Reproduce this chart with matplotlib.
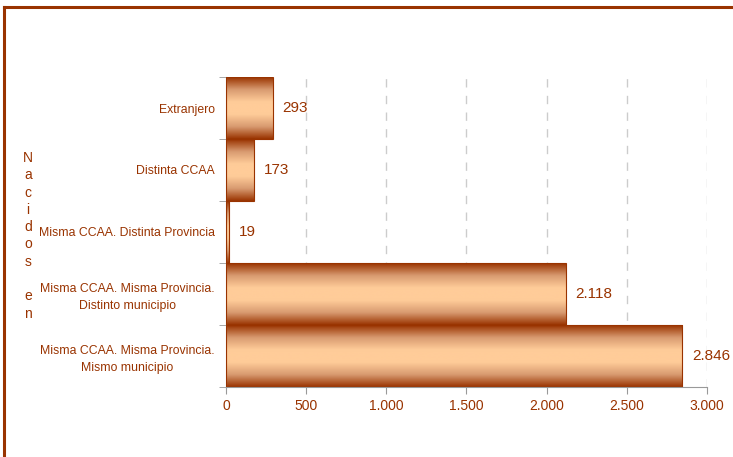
import matplotlib.pyplot as plt
import numpy as np
from matplotlib.colors import LinearSegmentedColormap
from matplotlib.lines import Line2D
from matplotlib.ticker import FuncFormatter

plt.rcParams['font.family'] = ['Liberation Sans', 'DejaVu Sans']

categories = ['Extranjero',
              'Distinta CCAA',
              'Misma CCAA. Distinta Provincia',
              'Misma CCAA. Misma Provincia.\nDistinto municipio',
              'Misma CCAA. Misma Provincia.\nMismo municipio']
values = [293, 173, 19, 2118, 2846]
ticks = [0, 500, 1000, 1500, 2000, 2500, 3000]

brown = '#993300'
peach = '#FFCC99'


def es_num(v, pos=None):
    return '{:,.0f}'.format(v).replace(',', '.')


fig = plt.figure(figsize=(7.33, 4.57), dpi=100)
ax = fig.add_axes([0.3083, 0.1532, 0.6562, 0.6783])

# frame around the chart
fig.add_artist(Line2D([0.0048, 0.0048], [0, 0.984], color=brown, lw=2.2, transform=fig.transFigure))
fig.add_artist(Line2D([0.0048, 1], [0.984, 0.984], color=brown, lw=2.2, transform=fig.transFigure))

cmap = LinearSegmentedColormap.from_list('bar', [brown, '#d89a70', peach, peach, '#d89a70', brown])
grad = np.linspace(0, 1, 256).reshape(-1, 1)

y = np.arange(len(categories))
for yi, v in zip(y, values):
    ax.imshow(grad, cmap=cmap, aspect='auto', extent=(0, v, yi - 0.5, yi + 0.5),
              interpolation='bicubic', zorder=2)
    ax.add_patch(plt.Rectangle((0, yi - 0.5), v, 1, fill=False, edgecolor=brown, lw=0.8, zorder=3))
    ax.annotate(es_num(v), (v, yi), xytext=(7, 0), textcoords='offset points',
                ha='left', va='center', fontsize=11, color=brown)

ax.set_xlim(0, 3000)
ax.set_ylim(len(categories) - 0.5, -0.5)
ax.set_xticks(ticks)
ax.xaxis.set_major_formatter(FuncFormatter(es_num))
ax.set_yticks(y)
ax.set_yticklabels(categories, fontsize=8.8, color=brown, ha='right',
                   multialignment='center', linespacing=1.5)
ax.tick_params(axis='y', length=0, pad=8)
ax.set_yticks(np.arange(-0.5, len(categories)), minor=True)
ax.tick_params(axis='y', which='minor', length=5, color='#999999')
ax.tick_params(axis='x', length=5, color='#999999', labelsize=10, labelcolor=brown)

ax.grid(axis='x', color='#cccccc', linestyle=(0, (6, 6)), lw=1, zorder=0)
ax.set_axisbelow(True)
for s in ['top', 'right']:
    ax.spines[s].set_visible(False)
for s in ['left', 'bottom']:
    ax.spines[s].set_color('#999999')

fig.text(0.038, 0.484, '\n'.join('Nacidos en'), ha='center', va='center',
         fontsize=10, color=brown, linespacing=1.3)

fig.savefig('out.png', dpi=100)
